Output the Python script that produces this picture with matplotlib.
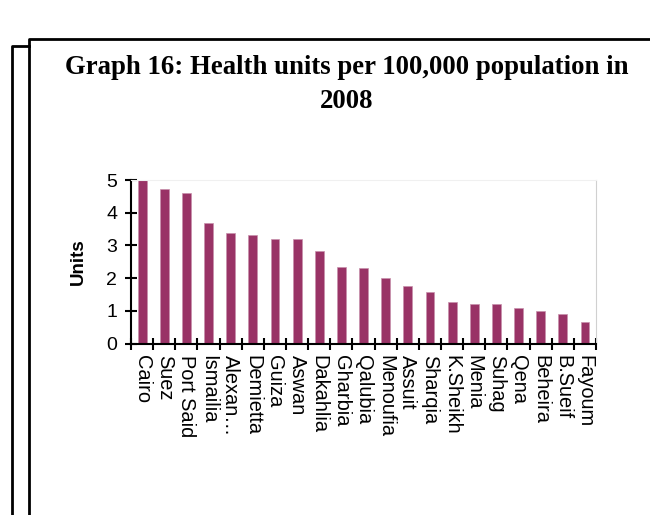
import numpy as np
import matplotlib.pyplot as plt
from matplotlib.lines import Line2D

regions = ['Cairo', 'Suez', 'Port Said', 'Ismailia', 'Alexan\u2026', 'Demietta',
           'Guiza', 'Aswan', 'Dakahlia', 'Gharbia', 'Qalubia', 'Menoufia',
           'Assuit', 'Sharqia', 'K.Sheikh', 'Menia', 'Suhag', 'Qena',
           'Beheira', 'B.Sueif', 'Fayoum']
units = [5.0, 4.72, 4.59, 3.68, 3.37, 3.31, 3.19, 3.19, 2.83, 2.34, 2.32,
         2.01, 1.77, 1.59, 1.28, 1.22, 1.22, 1.10, 0.98, 0.91, 0.67]

fig = plt.figure(figsize=(6.5, 5.15), dpi=100)

# page frames behind the chart
fig.add_artist(Line2D([12/650, 12/650, 29/650], [0, 1-45.5/515, 1-45.5/515],
                      transform=fig.transFigure, color='black', lw=2))
fig.add_artist(Line2D([29/650, 29/650, 1], [0, 1-39/515, 1-39/515],
                      transform=fig.transFigure, color='black', lw=2))

fig.text(0.534, 1-68/515, 'Graph 16: Health units per 100,000 population in',
         ha='center', va='center', family='Liberation Serif', weight='bold', fontsize=19.3)
fig.text(0.534, 1-101/515, '2008', ha='center', va='center',
         family='Liberation Serif', weight='bold', fontsize=19.3)

ax = fig.add_axes([131/650, 1-343.5/515, (596-131)/650, (343.5-180)/515])
x = np.arange(len(regions))
ax.bar(x, units, width=0.4, color='#993366', edgecolor='#c890ac', linewidth=0.5)

ax.set_xlim(-0.5, len(regions) - 0.5)
ax.set_ylim(0, 5)
ax.set_yticks(range(6))
ax.set_xticks(x)
ax.set_xticklabels(regions, rotation=-90, family='Liberation Sans', fontsize=14.4)
ax.set_xticks(np.arange(-0.5, len(regions)), minor=True)
ax.tick_params(axis='x', which='major', length=0, pad=8)
ax.tick_params(axis='x', which='minor', direction='inout', length=8, width=1.5)
ax.tick_params(axis='y', direction='inout', length=8, width=1.5, pad=6)
for lab in ax.get_yticklabels():
    lab.set_family('Liberation Sans')
    lab.set_fontsize(14)

ax.spines['left'].set_linewidth(1.5)
ax.spines['bottom'].set_linewidth(1.5)
ax.spines['top'].set_color('#f0f0f0')
ax.spines['right'].set_color('#d0d0d0')

ax.set_ylabel('Units', family='Liberation Sans', weight='bold', fontsize=13.5, labelpad=14)

fig.savefig('out.png', dpi=100)
